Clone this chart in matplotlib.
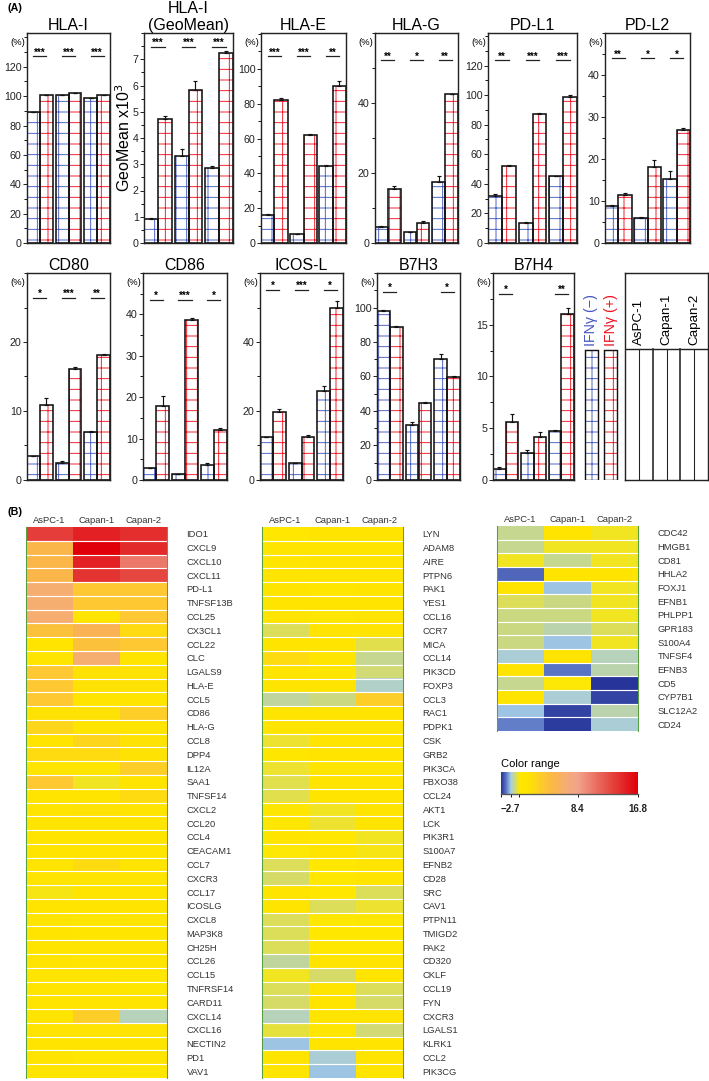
import numpy as np
import matplotlib
matplotlib.use("Agg")
import matplotlib.pyplot as plt
from matplotlib.colors import LinearSegmentedColormap
from matplotlib.patches import Rectangle
from matplotlib.ticker import MultipleLocator

plt.rcParams['font.family'] = ['Liberation Sans', 'DejaVu Sans']
plt.rcParams['hatch.linewidth'] = 1.0

W, H, DPI = 709, 1081, 64
BLUE = '#4456c0'
RED = '#f01020'

# ---------------- panel A data ----------------
cell_lines = ['AsPC-1', 'Capan-1', 'Capan-2']
markers = ['HLA-I', 'HLA-I\n(GeoMean)', 'HLA-E', 'HLA-G', 'PD-L1', 'PD-L2',
           'CD80', 'CD86', 'ICOS-L', 'B7H3', 'B7H4']
neg_vals = [[89, 101, 98.5], [0.93, 3.32, 2.85], [16, 5, 44], [4.5, 3.2, 17.3],
            [32, 13.5, 45], [8.7, 6.0, 15.3], [3.5, 2.5, 6.9], [2.8, 1.5, 3.7],
            [12.5, 5.0, 25.7], [98, 32, 70], [1.1, 2.6, 4.7]]
pos_vals = [[100.5, 102, 100.5], [4.73, 5.83, 7.22], [82, 62, 90], [15.5, 5.8, 42.7],
            [52, 87, 99], [11.5, 18.0, 27.0], [10.9, 16.1, 18.1], [17.8, 38.6, 12.0],
            [19.7, 12.5, 49.8], [88.5, 44.5, 59.5], [5.6, 4.2, 16.0]]
neg_err = [[0, 0, 0], [0.03, 0.25, 0.1], [0.5, 0.3, 1.0], [0.5, 0, 1.8],
           [1.0, 1.0, 0.3], [0.3, 0.3, 1.8], [0, 0.3, 0.2], [0, 0, 0.3],
           [0, 0, 1.5], [0.7, 1.5, 3.0], [0.15, 0.3, 0.15]]
pos_err = [[0, 0, 0], [0.1, 0.33, 0.1], [1.5, 0.5, 3.0], [0.8, 0.4, 0],
           [0.5, 0.8, 1.0], [0.3, 1.8, 0.3], [1.0, 0.3, 0.2], [2.5, 0.6, 0.6],
           [0.8, 0.4, 2.0], [0.5, 0.7, 0.5], [0.8, 0.4, 0.6]]
sig_marks = [['***', '***', '***'], ['***', '***', '***'], ['***', '***', '**'],
             ['**', '*', '**'], ['**', '***', '***'], ['**', '*', '*'],
             ['*', '***', '**'], ['*', '***', '*'], ['*', '***', '*'],
             ['*', '', '*'], ['*', '', '**']]

# axis setup per panel: (ymax, major step, minor step, last labelled tick)
y_setup = [(143, 20, 10, 120), (8.0, 1, 0.5, 7), (120.6, 20, 10, 100), (60, 20, 10, 40),
           (142, 20, 10, 120), (50, 10, 5, 40), (30, 10, 5, 20), (50, 10, 5, 40),
           (60, 20, 10, 40), (120, 20, 10, 100), (20, 5, 2.5, 15)]
sig_y = [0.89, 0.935, 0.89, 0.87, 0.87, 0.88, 0.88, 0.87, 0.92, 0.91, 0.9]
# pixel boxes (x0, y0, x1, y1)
boxes = [(27, 33, 110, 243), (144, 33, 233, 243), (261, 33, 346, 243),
         (375, 33, 458, 243), (488, 33, 577, 243), (605, 33, 690, 243),
         (27, 273, 110, 480), (143, 273, 227, 480), (260, 273, 343, 480),
         (377, 273, 460, 480), (493, 273, 574, 480)]

# ---------------- panel B data ----------------
hm1_genes = ['IDO1', 'CXCL9', 'CXCL10', 'CXCL11', 'PD-L1', 'TNFSF13B', 'CCL25', 'CX3CL1',
             'CCL22', 'CLC', 'LGALS9', 'HLA-E', 'CCL5', 'CD86', 'HLA-G', 'CCL8', 'DPP4',
             'IL12A', 'SAA1', 'TNFSF14', 'CXCL2', 'CCL20', 'CCL4', 'CEACAM1', 'CCL7',
             'CXCR3', 'CCL17', 'ICOSLG', 'CXCL8', 'MAP3K8', 'CH25H', 'CCL26', 'CCL15',
             'TNFRSF14', 'CARD11', 'CXCL14', 'CXCL16', 'NECTIN2', 'PD1', 'VAV1']
hm1_vals = [[13.5, 15.0, 14.3], [5.0, 16.8, 14.5], [5.0, 15.0, 10.5], [5.0, 14.0, 13.0],
            [6.5, 3.5, 3.5], [6.5, 3.5, 3.5], [6.5, 1.0, 3.5], [4.0, 5.5, 2.0],
            [1.0, 4.0, 3.5], [1.0, 6.5, 1.0], [3.5, 1.5, 1.5], [3.5, 1.5, 1.5],
            [3.5, 1.0, 1.0], [1.5, 1.5, 3.0], [2.5, 1.2, 1.2], [1.2, 2.5, 1.5],
            [2.0, 2.0, 1.5], [1.0, 1.0, 3.0], [3.5, -0.3, 1.0], [1.0, 1.0, 2.0],
            [1.0, 1.5, 1.0], [1.0, 1.0, 1.0], [1.0, 1.0, 1.0], [1.0, 1.0, 1.0],
            [1.0, 2.0, 1.0], [1.0, 1.0, 1.0], [-0.2, 1.0, 1.0], [1.0, 1.0, 1.0],
            [1.0, 0.8, 1.0], [1.0, 0.8, 0.8], [1.0, 1.0, 1.0], [1.0, 0.8, 1.0],
            [1.0, 1.0, 0.8], [1.0, 1.0, 0.5], [1.0, 1.0, 1.0], [1.0, 3.0, -2.2],
            [1.0, 1.0, 1.0], [1.0, 1.0, 1.0], [1.0, 0.2, 1.0], [1.0, 1.0, 0.3]]
hm2_genes = ['LYN', 'ADAM8', 'AIRE', 'PTPN6', 'PAK1', 'YES1', 'CCL16', 'CCR7', 'MICA',
             'CCL14', 'PIK3CD', 'FOXP3', 'CCL3', 'RAC1', 'PDPK1', 'CSK', 'GRB2', 'PIK3CA',
             'FBXO38', 'CCL24', 'AKT1', 'LCK', 'PIK3R1', 'S100A7', 'EFNB2', 'CD28', 'SRC',
             'CAV1', 'PTPN11', 'TMIGD2', 'PAK2', 'CD320', 'CKLF', 'CCL19', 'FYN', 'CXCR3',
             'LGALS1', 'KLRK1', 'CCL2', 'PIK3CG']
hm2_vals = [[0.3, 1.0, 1.0], [1.0, 1.0, 1.0], [0.8, 1.0, 1.0], [1.0, 1.0, 1.0],
            [1.0, 0.5, 1.0], [1.0, 1.0, 1.0], [1.0, 0.5, 1.0], [-1.0, 1.0, 1.0],
            [1.0, 1.0, -0.8], [2.0, 1.0, -1.6], [1.0, 0.5, -1.3], [1.0, 1.0, -2.3],
            [-1.8, -1.4, 3.0], [1.0, 1.0, 1.0], [1.0, 1.0, 1.0], [-0.5, 1.0, 1.0],
            [0.5, 1.0, 1.0], [-0.5, 1.0, 1.0], [-0.8, 1.0, 1.0], [-0.8, 1.0, 1.0],
            [0.5, -0.3, 1.0], [0.5, -0.5, 1.0], [1.0, 0.2, -0.3], [0.0, 1.0, -0.2],
            [-1.0, 0.2, 1.0], [-1.2, 0.2, 1.0], [1.0, 0.3, -1.0], [1.0, -1.0, -0.5],
            [-1.0, 0.3, 0.5], [-1.0, 0.2, 0.2], [-1.0, 0.2, 0.2], [-1.8, 1.0, 1.0],
            [-0.3, -1.2, 1.0], [-1.0, 1.0, -1.0], [-1.2, 1.0, -1.2], [-2.2, 1.0, 1.0],
            [-0.6, 0.5, -1.3], [-2.8, 1.0, 1.0], [1.0, -2.4, 1.0], [1.0, -2.8, 1.0]]
hm3_genes = ['CDC42', 'HMGB1', 'CD81', 'HHLA2', 'FOXJ1', 'EFNB1', 'PHLPP1', 'GPR183',
             'S100A4', 'TNFSF4', 'EFNB3', 'CD5', 'CYP7B1', 'SLC12A2', 'CD24']
hm3_vals = [[-1.6, 1.0, -0.3], [-1.6, -0.3, -0.3], [-0.3, -1.6, -0.3], [-4.2, 1.0, 1.0],
            [1.0, -2.7, -0.4], [-1.0, -1.4, -0.4], [-1.5, -1.5, -0.3], [-1.5, -2.0, -1.0],
            [-1.4, -2.8, -0.3], [-2.4, 1.0, -2.2], [1.0, -4.0, -2.0], [-1.6, 0.0, -5.3],
            [1.0, -2.5, -5.0], [-2.7, -5.0, -2.0], [-3.8, -5.2, -2.4]]
cbar_ticks = [-5.4, -2.7, 0, 8.4, 16.8]
cbar_labels = ['', '\u22122.7', '', '8.4', '16.8']

# colour scale: value stops -> position on the colour range bar
val_stops = [-5.4, -2.7, 0, 8.4, 16.8]
pos_stops = [0.0, 0.07, 0.135, 0.56, 1.0]
cmap = LinearSegmentedColormap.from_list('range', [
    (0.0, '#27359a'), (0.035, '#5a74c4'), (0.07, '#a5cde6'), (0.135, '#ffe800'),
    (0.2, '#ffe400'), (0.31, '#fdc832'), (0.39, '#fbb64a'), (0.46, '#f7ae70'),
    (0.56, '#f2a48c'), (0.75, '#e85a50'), (1.0, '#e0000a')])

fig = plt.figure(figsize=(W / DPI, H / DPI), dpi=DPI)


def px_axes(x0, y0, x1, y1):
    return fig.add_axes([x0 / W, 1 - y1 / H, (x1 - x0) / W, (y1 - y0) / H])


# ---------------- panel A ----------------
for i, name in enumerate(markers):
    ax = px_axes(*boxes[i])
    xn = np.arange(3) * 2.2
    xp = xn + 1
    ax.bar(xn, neg_vals[i], 1, color='white', edgecolor=BLUE, hatch='+', lw=0)
    ax.bar(xp, pos_vals[i], 1, color='white', edgecolor=RED, hatch='+', lw=0)
    ax.bar(xn, neg_vals[i], 1, fill=False, edgecolor='#111111', lw=1.8)
    ax.bar(xp, pos_vals[i], 1, fill=False, edgecolor='#111111', lw=1.8)
    ax.errorbar(xn, neg_vals[i], yerr=[np.zeros(3), neg_err[i]], fmt='none',
                ecolor='#111111', elinewidth=1.3, capsize=2.5, capthick=1.3)
    ax.errorbar(xp, pos_vals[i], yerr=[np.zeros(3), pos_err[i]], fmt='none',
                ecolor='#111111', elinewidth=1.3, capsize=2.5, capthick=1.3)
    ymax, major, minor, top_tick = y_setup[i]
    ax.set_xlim(-0.5, 5.9)
    ax.set_ylim(0, ymax)
    ax.set_yticks(np.arange(0, top_tick + major / 2, major))
    ax.yaxis.set_minor_locator(MultipleLocator(minor))
    ax.set_xticks([])
    ax.tick_params(axis='y', which='major', direction='out', length=5, width=1.1,
                   labelsize=12, pad=1, colors='#222222')
    ax.tick_params(axis='y', which='minor', direction='out', length=3, width=1.0)
    for s in ax.spines.values():
        s.set_linewidth(1.6)
        s.set_color('#222222')
    ax.set_title(name, fontsize=18, pad=3, linespacing=1.2)
    trans = ax.get_xaxis_transform()
    for j in range(3):
        if sig_marks[i][j]:
            ax.plot([xn[j], xp[j]], [sig_y[i]] * 2, color='#222222', lw=1.4,
                    transform=trans, clip_on=False)
            ax.text((xn[j] + xp[j]) / 2, sig_y[i] + 0.003, sig_marks[i][j], transform=trans,
                    ha='center', va='baseline', fontsize=11, fontweight='bold')
    if i == 1:
        ax.set_ylabel('GeoMean x10$^3$', fontsize=18, labelpad=0)
    else:
        ax.text(-0.02, 0.955, '(%)', transform=ax.transAxes, ha='right', va='center',
                fontsize=10.5)

# legend swatches
lax = px_axes(583, 273, 622, 480)
lax.set_xlim(583, 622)
lax.set_ylim(480, 273)
lax.axis('off')
for x0, col, lab in [(585, BLUE, 'IFN\u03b3 (\u2212)'), (604, RED, 'IFN\u03b3 (+)')]:
    lax.add_patch(Rectangle((x0, 350), 13, 130, facecolor='white', edgecolor=col,
                            hatch='+', lw=0))
    lax.add_patch(Rectangle((x0, 350), 13, 130, fill=False, edgecolor='#111111', lw=1.6))
    lax.text(x0 + 6.5, 346, lab, color=col, rotation=90, ha='center', va='bottom',
             fontsize=16)

# cell line key box
kax = px_axes(625, 273, 708, 480)
kax.set_xlim(0, 6)
kax.set_ylim(0, 1)
kax.set_xticks([])
kax.set_yticks([])
for s in kax.spines.values():
    s.set_linewidth(1.6)
    s.set_color('#222222')
kax.axhline(0.633, color='#222222', lw=1.6)
for k in range(1, 6):
    kax.plot([k, k], [0, 0.633], color='#222222', lw=1.8 if k % 2 == 0 else 1.2)
for k, cl in enumerate(cell_lines):
    kax.text(2 * k + 1, 0.65, cl, rotation=90, ha='center', va='bottom', fontsize=15)

fig.text(7 / W, 1 - 8 / H, '(A)', fontsize=12, fontweight='bold', va='center')
fig.text(7 / W, 1 - 512 / H, '(B)', fontsize=12, fontweight='bold', va='center')


# ---------------- panel B ----------------
def heatmap(ax, genes, vals):
    pos = np.interp(np.array(vals), val_stops, pos_stops)
    ax.imshow(pos, cmap=cmap, vmin=0, vmax=1, aspect='auto', interpolation='nearest')
    ax.hlines(np.arange(len(genes) - 1) + 0.5, -0.5, 2.5, color='white', lw=1.3)
    ax.set_xticks(range(3))
    ax.set_xticklabels(cell_lines)
    ax.xaxis.tick_top()
    ax.yaxis.tick_right()
    ax.set_yticks(range(len(genes)))
    ax.set_yticklabels(genes)
    ax.tick_params(axis='y', length=0, labelsize=10.5, pad=22, colors='#333333')
    ax.tick_params(axis='x', length=0, labelsize=10.5, pad=2, colors='#333333')
    ax.spines['top'].set_visible(False)
    ax.spines['bottom'].set_visible(False)
    for side in ['left', 'right']:
        ax.spines[side].set_color('#5aa040')
        ax.spines[side].set_linewidth(1.2)


heatmap(px_axes(26, 527, 167, 1078), hm1_genes, hm1_vals)
heatmap(px_axes(262, 527, 403, 1078), hm2_genes, hm2_vals)
heatmap(px_axes(497, 526, 638, 731), hm3_genes, hm3_vals)

cax = px_axes(501, 772, 638, 794)
cax.imshow(np.linspace(0, 1, 256)[None, :], cmap=cmap, aspect='auto', extent=[0, 1, 0, 1])
cax.set_xticks(np.interp(cbar_ticks, val_stops, pos_stops))
cax.set_xticklabels(cbar_labels, fontsize=11, fontweight='bold', color='#222222')
cax.set_yticks([])
cax.tick_params(axis='x', direction='out', length=3, width=1, pad=8)
for side in ['top', 'left', 'right']:
    cax.spines[side].set_visible(False)
cax.spines['bottom'].set_color('#555555')
cax.spines['bottom'].set_linewidth(1.5)
cax.text(0, 1.12, 'Color range', transform=cax.transAxes, ha='left', va='bottom',
         fontsize=12.5)

fig.savefig('out.png', dpi=DPI)
